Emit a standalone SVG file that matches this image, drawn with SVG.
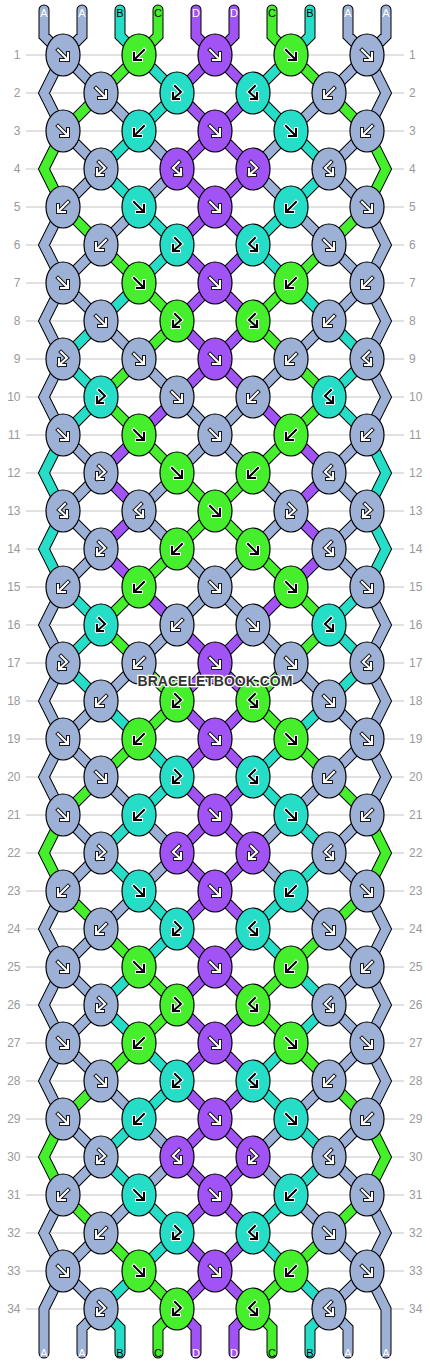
<svg xmlns="http://www.w3.org/2000/svg" xmlns:xlink="http://www.w3.org/1999/xlink" width="430" height="1364" viewBox="0 0 430 1364">
<style>
.ln{stroke:#c4c4c4;stroke-width:1;fill:none}
.rn{font-family:"Liberation Sans",Arial,sans-serif;font-size:12px;fill:#9a9a9a}
.l{text-anchor:end}
.o{fill:none;stroke:#000;stroke-width:11;stroke-linecap:round}
.sa,.sb,.sc,.sd{fill:none;stroke-width:9;stroke-linecap:round}
.sa{stroke:#9db0d6}.sb{stroke:#26dec8}.sc{stroke:#45ef2c}.sd{stroke:#a253f5}
ellipse{stroke:#000;stroke-width:1.2}
.A{fill:#9db0d6}.B{fill:#26dec8}.C{fill:#45ef2c}.D{fill:#a253f5}
.wo,.wi,.ko,.ki{fill:none;stroke-linecap:square}
.wo{stroke:#1a1a1a;stroke-width:4}.wi{stroke:#fff;stroke-width:2}
.ko{stroke:#fff;stroke-width:4}.ki{stroke:#000;stroke-width:2}
.lab{font-family:"Liberation Sans",Arial,sans-serif;font-size:11px;text-anchor:middle}
.lw{fill:#fff}.lk{fill:#000}
.wm{font-family:"Liberation Sans",Arial,sans-serif;font-weight:bold;font-size:14px;text-anchor:middle;fill:#333;stroke:#fff;stroke-width:2.5;paint-order:stroke}
</style>
<defs>
<path id="f" d="M-5,-5L4,4M5,-2V5H-2"/>
<path id="b" d="M5,-5L-4,4M-5,-2V5H2"/>
<path id="fb" d="M-2,-7L4,-1L-4,6M-4,0V6H2"/>
<path id="bf" d="M2,-7L-4,-1L4,6M4,0V6H-2"/>
<g id="fW"><use href="#f" class="wo"/><use href="#f" class="wi"/></g>
<g id="bW"><use href="#b" class="wo"/><use href="#b" class="wi"/></g>
<g id="fbW"><use href="#fb" class="wo"/><use href="#fb" class="wi"/></g>
<g id="bfW"><use href="#bf" class="wo"/><use href="#bf" class="wi"/></g>
<g id="fK"><use href="#f" class="ko"/><use href="#f" class="ki"/></g>
<g id="bK"><use href="#b" class="ko"/><use href="#b" class="ki"/></g>
<g id="fbK"><use href="#fb" class="ko"/><use href="#fb" class="ki"/></g>
<g id="bfK"><use href="#bf" class="ko"/><use href="#bf" class="ki"/></g>
<g id="allp">
<path id="pA" d="M44,10V36L63,55M82,10V36L63,55M63,55L44,93L63,131M63,207L44,245L63,283L44,321L63,359L44,397L63,435M63,587L44,625L63,663L44,701L63,739L44,777L63,815M63,891L44,929L63,967L44,1005L63,1043L44,1081L63,1119M63,1195L44,1233L63,1271L44,1309V1353M101,1309L82,1328V1353M63,55l38,38M101,93l38,38M63,131l38,38M139,131l38,38M101,169l-38,38M177,169l-38,38M139,207l-38,38M101,245l-38,38M63,283l38,38M101,321l38,38M139,359l38,38M177,397l38,38M63,435l38,38M215,435l-38,38M101,473l-38,38M177,473l-38,38M63,511l38,38M139,511l38,38M101,549l-38,38M177,549l38,38M215,587l-38,38M177,625l-38,38M139,663l-38,38M101,701l-38,38M63,739l38,38M101,777l38,38M63,815l38,38M139,815l38,38M101,853l-38,38M177,853l-38,38M139,891l-38,38M101,929l-38,38M63,967l38,38M101,1005l-38,38M63,1043l38,38M101,1081l38,38M63,1119l38,38M139,1119l38,38M101,1157l-38,38M177,1157l-38,38M139,1195l-38,38M101,1233l-38,38M63,1271l38,38"/>
<path id="pB" d="M120,10V36L139,55L177,93L139,131L101,169L139,207L177,245L139,283L101,321L63,359L101,397L63,435L44,473L63,511L44,549L63,587L101,625L63,663L101,701L139,739L177,777L139,815L101,853L139,891L177,929L139,967L101,1005L139,1043L177,1081L139,1119L101,1157L139,1195L177,1233L139,1271L101,1309L120,1328V1353"/>
<path id="pC" d="M158,10V36L139,55L101,93L63,131L44,169L63,207L101,245L139,283L177,321L139,359L101,397L139,435L177,473L215,511L177,549L139,587L101,625L139,663L177,701L139,739L101,777L63,815L44,853L63,891L101,929L139,967L177,1005L139,1043L101,1081L63,1119L44,1157L63,1195L101,1233L139,1271L177,1309L158,1328V1353"/>
<path id="pD" d="M196,10V36L215,55L177,93L215,131L177,169L215,207L177,245L215,283L177,321L215,359L177,397L139,435L101,473L139,511L101,549L139,587L177,625L215,663L177,701L215,739L177,777L215,815L177,853L215,891L177,929L215,967L177,1005L215,1043L177,1081L215,1119L177,1157L215,1195L177,1233L215,1271L177,1309L196,1328V1353"/>
</g>
<g id="half"><use href="#allp" class="o"/><use href="#pA" class="sa"/><use href="#pB" class="sb"/><use href="#pC" class="sc"/><use href="#pD" class="sd"/></g>
</defs>
<rect width="430" height="1364" fill="#fff"/>
<path class="ln" d="M26,55H404M26,93H404M26,131H404M26,169H404M26,207H404M26,245H404M26,283H404M26,321H404M26,359H404M26,397H404M26,435H404M26,473H404M26,511H404M26,549H404M26,587H404M26,625H404M26,663H404M26,701H404M26,739H404M26,777H404M26,815H404M26,853H404M26,891H404M26,929H404M26,967H404M26,1005H404M26,1043H404M26,1081H404M26,1119H404M26,1157H404M26,1195H404M26,1233H404M26,1271H404M26,1309H404"/>
<g id="rownumbers">
<text class="rn l" x="20.5" y="59">1</text><text class="rn" x="409" y="59">1</text>
<text class="rn l" x="20.5" y="97">2</text><text class="rn" x="409" y="97">2</text>
<text class="rn l" x="20.5" y="135">3</text><text class="rn" x="409" y="135">3</text>
<text class="rn l" x="20.5" y="173">4</text><text class="rn" x="409" y="173">4</text>
<text class="rn l" x="20.5" y="211">5</text><text class="rn" x="409" y="211">5</text>
<text class="rn l" x="20.5" y="249">6</text><text class="rn" x="409" y="249">6</text>
<text class="rn l" x="20.5" y="287">7</text><text class="rn" x="409" y="287">7</text>
<text class="rn l" x="20.5" y="325">8</text><text class="rn" x="409" y="325">8</text>
<text class="rn l" x="20.5" y="363">9</text><text class="rn" x="409" y="363">9</text>
<text class="rn l" x="20.5" y="401">10</text><text class="rn" x="409" y="401">10</text>
<text class="rn l" x="20.5" y="439">11</text><text class="rn" x="409" y="439">11</text>
<text class="rn l" x="20.5" y="477">12</text><text class="rn" x="409" y="477">12</text>
<text class="rn l" x="20.5" y="515">13</text><text class="rn" x="409" y="515">13</text>
<text class="rn l" x="20.5" y="553">14</text><text class="rn" x="409" y="553">14</text>
<text class="rn l" x="20.5" y="591">15</text><text class="rn" x="409" y="591">15</text>
<text class="rn l" x="20.5" y="629">16</text><text class="rn" x="409" y="629">16</text>
<text class="rn l" x="20.5" y="667">17</text><text class="rn" x="409" y="667">17</text>
<text class="rn l" x="20.5" y="705">18</text><text class="rn" x="409" y="705">18</text>
<text class="rn l" x="20.5" y="743">19</text><text class="rn" x="409" y="743">19</text>
<text class="rn l" x="20.5" y="781">20</text><text class="rn" x="409" y="781">20</text>
<text class="rn l" x="20.5" y="819">21</text><text class="rn" x="409" y="819">21</text>
<text class="rn l" x="20.5" y="857">22</text><text class="rn" x="409" y="857">22</text>
<text class="rn l" x="20.5" y="895">23</text><text class="rn" x="409" y="895">23</text>
<text class="rn l" x="20.5" y="933">24</text><text class="rn" x="409" y="933">24</text>
<text class="rn l" x="20.5" y="971">25</text><text class="rn" x="409" y="971">25</text>
<text class="rn l" x="20.5" y="1009">26</text><text class="rn" x="409" y="1009">26</text>
<text class="rn l" x="20.5" y="1047">27</text><text class="rn" x="409" y="1047">27</text>
<text class="rn l" x="20.5" y="1085">28</text><text class="rn" x="409" y="1085">28</text>
<text class="rn l" x="20.5" y="1123">29</text><text class="rn" x="409" y="1123">29</text>
<text class="rn l" x="20.5" y="1161">30</text><text class="rn" x="409" y="1161">30</text>
<text class="rn l" x="20.5" y="1199">31</text><text class="rn" x="409" y="1199">31</text>
<text class="rn l" x="20.5" y="1237">32</text><text class="rn" x="409" y="1237">32</text>
<text class="rn l" x="20.5" y="1275">33</text><text class="rn" x="409" y="1275">33</text>
<text class="rn l" x="20.5" y="1313">34</text><text class="rn" x="409" y="1313">34</text>
</g>
<g id="connectors">
<use href="#half"/>
<use href="#half" transform="matrix(-1,0,0,1,430,0)"/>
</g>
<g id="knots">
<g id="n1-1" transform="translate(63,55)"><ellipse class="A" rx="17" ry="21"/><use href="#fW"/></g>
<g id="n1-2" transform="translate(139,55)"><ellipse class="C" rx="17" ry="21"/><use href="#bK"/></g>
<g id="n1-3" transform="translate(215,55)"><ellipse class="D" rx="17" ry="21"/><use href="#fW"/></g>
<g id="n1-4" transform="translate(291,55)"><ellipse class="C" rx="17" ry="21"/><use href="#fK"/></g>
<g id="n1-5" transform="translate(367,55)"><ellipse class="A" rx="17" ry="21"/><use href="#fW"/></g>
<g id="n2-1" transform="translate(101,93)"><ellipse class="A" rx="17" ry="21"/><use href="#fW"/></g>
<g id="n2-2" transform="translate(177,93)"><ellipse class="B" rx="17" ry="21"/><use href="#fbK"/></g>
<g id="n2-3" transform="translate(253,93)"><ellipse class="B" rx="17" ry="21"/><use href="#bfK"/></g>
<g id="n2-4" transform="translate(329,93)"><ellipse class="A" rx="17" ry="21"/><use href="#bW"/></g>
<g id="n3-1" transform="translate(63,131)"><ellipse class="A" rx="17" ry="21"/><use href="#fW"/></g>
<g id="n3-2" transform="translate(139,131)"><ellipse class="B" rx="17" ry="21"/><use href="#bK"/></g>
<g id="n3-3" transform="translate(215,131)"><ellipse class="D" rx="17" ry="21"/><use href="#fW"/></g>
<g id="n3-4" transform="translate(291,131)"><ellipse class="B" rx="17" ry="21"/><use href="#fK"/></g>
<g id="n3-5" transform="translate(367,131)"><ellipse class="A" rx="17" ry="21"/><use href="#bW"/></g>
<g id="n4-1" transform="translate(101,169)"><ellipse class="A" rx="17" ry="21"/><use href="#fbW"/></g>
<g id="n4-2" transform="translate(177,169)"><ellipse class="D" rx="17" ry="21"/><use href="#bfW"/></g>
<g id="n4-3" transform="translate(253,169)"><ellipse class="D" rx="17" ry="21"/><use href="#fbW"/></g>
<g id="n4-4" transform="translate(329,169)"><ellipse class="A" rx="17" ry="21"/><use href="#bfW"/></g>
<g id="n5-1" transform="translate(63,207)"><ellipse class="A" rx="17" ry="21"/><use href="#bW"/></g>
<g id="n5-2" transform="translate(139,207)"><ellipse class="B" rx="17" ry="21"/><use href="#fK"/></g>
<g id="n5-3" transform="translate(215,207)"><ellipse class="D" rx="17" ry="21"/><use href="#fW"/></g>
<g id="n5-4" transform="translate(291,207)"><ellipse class="B" rx="17" ry="21"/><use href="#bK"/></g>
<g id="n5-5" transform="translate(367,207)"><ellipse class="A" rx="17" ry="21"/><use href="#fW"/></g>
<g id="n6-1" transform="translate(101,245)"><ellipse class="A" rx="17" ry="21"/><use href="#bW"/></g>
<g id="n6-2" transform="translate(177,245)"><ellipse class="B" rx="17" ry="21"/><use href="#fbK"/></g>
<g id="n6-3" transform="translate(253,245)"><ellipse class="B" rx="17" ry="21"/><use href="#bfK"/></g>
<g id="n6-4" transform="translate(329,245)"><ellipse class="A" rx="17" ry="21"/><use href="#fW"/></g>
<g id="n7-1" transform="translate(63,283)"><ellipse class="A" rx="17" ry="21"/><use href="#fW"/></g>
<g id="n7-2" transform="translate(139,283)"><ellipse class="C" rx="17" ry="21"/><use href="#fK"/></g>
<g id="n7-3" transform="translate(215,283)"><ellipse class="D" rx="17" ry="21"/><use href="#fW"/></g>
<g id="n7-4" transform="translate(291,283)"><ellipse class="C" rx="17" ry="21"/><use href="#bK"/></g>
<g id="n7-5" transform="translate(367,283)"><ellipse class="A" rx="17" ry="21"/><use href="#bW"/></g>
<g id="n8-1" transform="translate(101,321)"><ellipse class="A" rx="17" ry="21"/><use href="#fW"/></g>
<g id="n8-2" transform="translate(177,321)"><ellipse class="C" rx="17" ry="21"/><use href="#fbK"/></g>
<g id="n8-3" transform="translate(253,321)"><ellipse class="C" rx="17" ry="21"/><use href="#bfK"/></g>
<g id="n8-4" transform="translate(329,321)"><ellipse class="A" rx="17" ry="21"/><use href="#bW"/></g>
<g id="n9-1" transform="translate(63,359)"><ellipse class="A" rx="17" ry="21"/><use href="#fbW"/></g>
<g id="n9-2" transform="translate(139,359)"><ellipse class="A" rx="17" ry="21"/><use href="#fW"/></g>
<g id="n9-3" transform="translate(215,359)"><ellipse class="D" rx="17" ry="21"/><use href="#fW"/></g>
<g id="n9-4" transform="translate(291,359)"><ellipse class="A" rx="17" ry="21"/><use href="#bW"/></g>
<g id="n9-5" transform="translate(367,359)"><ellipse class="A" rx="17" ry="21"/><use href="#bfW"/></g>
<g id="n10-1" transform="translate(101,397)"><ellipse class="B" rx="17" ry="21"/><use href="#fbK"/></g>
<g id="n10-2" transform="translate(177,397)"><ellipse class="A" rx="17" ry="21"/><use href="#fW"/></g>
<g id="n10-3" transform="translate(253,397)"><ellipse class="A" rx="17" ry="21"/><use href="#bW"/></g>
<g id="n10-4" transform="translate(329,397)"><ellipse class="B" rx="17" ry="21"/><use href="#bfK"/></g>
<g id="n11-1" transform="translate(63,435)"><ellipse class="A" rx="17" ry="21"/><use href="#fW"/></g>
<g id="n11-2" transform="translate(139,435)"><ellipse class="C" rx="17" ry="21"/><use href="#fK"/></g>
<g id="n11-3" transform="translate(215,435)"><ellipse class="A" rx="17" ry="21"/><use href="#fW"/></g>
<g id="n11-4" transform="translate(291,435)"><ellipse class="C" rx="17" ry="21"/><use href="#bK"/></g>
<g id="n11-5" transform="translate(367,435)"><ellipse class="A" rx="17" ry="21"/><use href="#bW"/></g>
<g id="n12-1" transform="translate(101,473)"><ellipse class="A" rx="17" ry="21"/><use href="#fbW"/></g>
<g id="n12-2" transform="translate(177,473)"><ellipse class="C" rx="17" ry="21"/><use href="#fK"/></g>
<g id="n12-3" transform="translate(253,473)"><ellipse class="C" rx="17" ry="21"/><use href="#bK"/></g>
<g id="n12-4" transform="translate(329,473)"><ellipse class="A" rx="17" ry="21"/><use href="#bfW"/></g>
<g id="n13-1" transform="translate(63,511)"><ellipse class="A" rx="17" ry="21"/><use href="#bfW"/></g>
<g id="n13-2" transform="translate(139,511)"><ellipse class="A" rx="17" ry="21"/><use href="#bfW"/></g>
<g id="n13-3" transform="translate(215,511)"><ellipse class="C" rx="17" ry="21"/><use href="#fK"/></g>
<g id="n13-4" transform="translate(291,511)"><ellipse class="A" rx="17" ry="21"/><use href="#fbW"/></g>
<g id="n13-5" transform="translate(367,511)"><ellipse class="A" rx="17" ry="21"/><use href="#fbW"/></g>
<g id="n14-1" transform="translate(101,549)"><ellipse class="A" rx="17" ry="21"/><use href="#fbW"/></g>
<g id="n14-2" transform="translate(177,549)"><ellipse class="C" rx="17" ry="21"/><use href="#bK"/></g>
<g id="n14-3" transform="translate(253,549)"><ellipse class="C" rx="17" ry="21"/><use href="#fK"/></g>
<g id="n14-4" transform="translate(329,549)"><ellipse class="A" rx="17" ry="21"/><use href="#bfW"/></g>
<g id="n15-1" transform="translate(63,587)"><ellipse class="A" rx="17" ry="21"/><use href="#bW"/></g>
<g id="n15-2" transform="translate(139,587)"><ellipse class="C" rx="17" ry="21"/><use href="#bK"/></g>
<g id="n15-3" transform="translate(215,587)"><ellipse class="A" rx="17" ry="21"/><use href="#fW"/></g>
<g id="n15-4" transform="translate(291,587)"><ellipse class="C" rx="17" ry="21"/><use href="#fK"/></g>
<g id="n15-5" transform="translate(367,587)"><ellipse class="A" rx="17" ry="21"/><use href="#fW"/></g>
<g id="n16-1" transform="translate(101,625)"><ellipse class="B" rx="17" ry="21"/><use href="#fbK"/></g>
<g id="n16-2" transform="translate(177,625)"><ellipse class="A" rx="17" ry="21"/><use href="#bW"/></g>
<g id="n16-3" transform="translate(253,625)"><ellipse class="A" rx="17" ry="21"/><use href="#fW"/></g>
<g id="n16-4" transform="translate(329,625)"><ellipse class="B" rx="17" ry="21"/><use href="#bfK"/></g>
<g id="n17-1" transform="translate(63,663)"><ellipse class="A" rx="17" ry="21"/><use href="#fbW"/></g>
<g id="n17-2" transform="translate(139,663)"><ellipse class="A" rx="17" ry="21"/><use href="#bW"/></g>
<g id="n17-3" transform="translate(215,663)"><ellipse class="D" rx="17" ry="21"/><use href="#fW"/></g>
<g id="n17-4" transform="translate(291,663)"><ellipse class="A" rx="17" ry="21"/><use href="#fW"/></g>
<g id="n17-5" transform="translate(367,663)"><ellipse class="A" rx="17" ry="21"/><use href="#bfW"/></g>
<g id="n18-1" transform="translate(101,701)"><ellipse class="A" rx="17" ry="21"/><use href="#bW"/></g>
<g id="n18-2" transform="translate(177,701)"><ellipse class="C" rx="17" ry="21"/><use href="#fbK"/></g>
<g id="n18-3" transform="translate(253,701)"><ellipse class="C" rx="17" ry="21"/><use href="#bfK"/></g>
<g id="n18-4" transform="translate(329,701)"><ellipse class="A" rx="17" ry="21"/><use href="#fW"/></g>
<g id="n19-1" transform="translate(63,739)"><ellipse class="A" rx="17" ry="21"/><use href="#fW"/></g>
<g id="n19-2" transform="translate(139,739)"><ellipse class="C" rx="17" ry="21"/><use href="#bK"/></g>
<g id="n19-3" transform="translate(215,739)"><ellipse class="D" rx="17" ry="21"/><use href="#fW"/></g>
<g id="n19-4" transform="translate(291,739)"><ellipse class="C" rx="17" ry="21"/><use href="#fK"/></g>
<g id="n19-5" transform="translate(367,739)"><ellipse class="A" rx="17" ry="21"/><use href="#fW"/></g>
<g id="n20-1" transform="translate(101,777)"><ellipse class="A" rx="17" ry="21"/><use href="#fW"/></g>
<g id="n20-2" transform="translate(177,777)"><ellipse class="B" rx="17" ry="21"/><use href="#fbK"/></g>
<g id="n20-3" transform="translate(253,777)"><ellipse class="B" rx="17" ry="21"/><use href="#bfK"/></g>
<g id="n20-4" transform="translate(329,777)"><ellipse class="A" rx="17" ry="21"/><use href="#bW"/></g>
<g id="n21-1" transform="translate(63,815)"><ellipse class="A" rx="17" ry="21"/><use href="#fW"/></g>
<g id="n21-2" transform="translate(139,815)"><ellipse class="B" rx="17" ry="21"/><use href="#bK"/></g>
<g id="n21-3" transform="translate(215,815)"><ellipse class="D" rx="17" ry="21"/><use href="#fW"/></g>
<g id="n21-4" transform="translate(291,815)"><ellipse class="B" rx="17" ry="21"/><use href="#fK"/></g>
<g id="n21-5" transform="translate(367,815)"><ellipse class="A" rx="17" ry="21"/><use href="#bW"/></g>
<g id="n22-1" transform="translate(101,853)"><ellipse class="A" rx="17" ry="21"/><use href="#fbW"/></g>
<g id="n22-2" transform="translate(177,853)"><ellipse class="D" rx="17" ry="21"/><use href="#bfW"/></g>
<g id="n22-3" transform="translate(253,853)"><ellipse class="D" rx="17" ry="21"/><use href="#fbW"/></g>
<g id="n22-4" transform="translate(329,853)"><ellipse class="A" rx="17" ry="21"/><use href="#bfW"/></g>
<g id="n23-1" transform="translate(63,891)"><ellipse class="A" rx="17" ry="21"/><use href="#bW"/></g>
<g id="n23-2" transform="translate(139,891)"><ellipse class="B" rx="17" ry="21"/><use href="#fK"/></g>
<g id="n23-3" transform="translate(215,891)"><ellipse class="D" rx="17" ry="21"/><use href="#fW"/></g>
<g id="n23-4" transform="translate(291,891)"><ellipse class="B" rx="17" ry="21"/><use href="#bK"/></g>
<g id="n23-5" transform="translate(367,891)"><ellipse class="A" rx="17" ry="21"/><use href="#fW"/></g>
<g id="n24-1" transform="translate(101,929)"><ellipse class="A" rx="17" ry="21"/><use href="#bW"/></g>
<g id="n24-2" transform="translate(177,929)"><ellipse class="B" rx="17" ry="21"/><use href="#fbK"/></g>
<g id="n24-3" transform="translate(253,929)"><ellipse class="B" rx="17" ry="21"/><use href="#bfK"/></g>
<g id="n24-4" transform="translate(329,929)"><ellipse class="A" rx="17" ry="21"/><use href="#fW"/></g>
<g id="n25-1" transform="translate(63,967)"><ellipse class="A" rx="17" ry="21"/><use href="#fW"/></g>
<g id="n25-2" transform="translate(139,967)"><ellipse class="C" rx="17" ry="21"/><use href="#fK"/></g>
<g id="n25-3" transform="translate(215,967)"><ellipse class="D" rx="17" ry="21"/><use href="#fW"/></g>
<g id="n25-4" transform="translate(291,967)"><ellipse class="C" rx="17" ry="21"/><use href="#bK"/></g>
<g id="n25-5" transform="translate(367,967)"><ellipse class="A" rx="17" ry="21"/><use href="#bW"/></g>
<g id="n26-1" transform="translate(101,1005)"><ellipse class="A" rx="17" ry="21"/><use href="#fbW"/></g>
<g id="n26-2" transform="translate(177,1005)"><ellipse class="C" rx="17" ry="21"/><use href="#fbK"/></g>
<g id="n26-3" transform="translate(253,1005)"><ellipse class="C" rx="17" ry="21"/><use href="#bfK"/></g>
<g id="n26-4" transform="translate(329,1005)"><ellipse class="A" rx="17" ry="21"/><use href="#bfW"/></g>
<g id="n27-1" transform="translate(63,1043)"><ellipse class="A" rx="17" ry="21"/><use href="#fW"/></g>
<g id="n27-2" transform="translate(139,1043)"><ellipse class="C" rx="17" ry="21"/><use href="#bK"/></g>
<g id="n27-3" transform="translate(215,1043)"><ellipse class="D" rx="17" ry="21"/><use href="#fW"/></g>
<g id="n27-4" transform="translate(291,1043)"><ellipse class="C" rx="17" ry="21"/><use href="#fK"/></g>
<g id="n27-5" transform="translate(367,1043)"><ellipse class="A" rx="17" ry="21"/><use href="#fW"/></g>
<g id="n28-1" transform="translate(101,1081)"><ellipse class="A" rx="17" ry="21"/><use href="#fW"/></g>
<g id="n28-2" transform="translate(177,1081)"><ellipse class="B" rx="17" ry="21"/><use href="#fbK"/></g>
<g id="n28-3" transform="translate(253,1081)"><ellipse class="B" rx="17" ry="21"/><use href="#bfK"/></g>
<g id="n28-4" transform="translate(329,1081)"><ellipse class="A" rx="17" ry="21"/><use href="#bW"/></g>
<g id="n29-1" transform="translate(63,1119)"><ellipse class="A" rx="17" ry="21"/><use href="#fW"/></g>
<g id="n29-2" transform="translate(139,1119)"><ellipse class="B" rx="17" ry="21"/><use href="#bK"/></g>
<g id="n29-3" transform="translate(215,1119)"><ellipse class="D" rx="17" ry="21"/><use href="#fW"/></g>
<g id="n29-4" transform="translate(291,1119)"><ellipse class="B" rx="17" ry="21"/><use href="#fK"/></g>
<g id="n29-5" transform="translate(367,1119)"><ellipse class="A" rx="17" ry="21"/><use href="#bW"/></g>
<g id="n30-1" transform="translate(101,1157)"><ellipse class="A" rx="17" ry="21"/><use href="#fbW"/></g>
<g id="n30-2" transform="translate(177,1157)"><ellipse class="D" rx="17" ry="21"/><use href="#bfW"/></g>
<g id="n30-3" transform="translate(253,1157)"><ellipse class="D" rx="17" ry="21"/><use href="#fbW"/></g>
<g id="n30-4" transform="translate(329,1157)"><ellipse class="A" rx="17" ry="21"/><use href="#bfW"/></g>
<g id="n31-1" transform="translate(63,1195)"><ellipse class="A" rx="17" ry="21"/><use href="#bW"/></g>
<g id="n31-2" transform="translate(139,1195)"><ellipse class="B" rx="17" ry="21"/><use href="#fK"/></g>
<g id="n31-3" transform="translate(215,1195)"><ellipse class="D" rx="17" ry="21"/><use href="#fW"/></g>
<g id="n31-4" transform="translate(291,1195)"><ellipse class="B" rx="17" ry="21"/><use href="#bK"/></g>
<g id="n31-5" transform="translate(367,1195)"><ellipse class="A" rx="17" ry="21"/><use href="#fW"/></g>
<g id="n32-1" transform="translate(101,1233)"><ellipse class="A" rx="17" ry="21"/><use href="#bW"/></g>
<g id="n32-2" transform="translate(177,1233)"><ellipse class="B" rx="17" ry="21"/><use href="#fbK"/></g>
<g id="n32-3" transform="translate(253,1233)"><ellipse class="B" rx="17" ry="21"/><use href="#bfK"/></g>
<g id="n32-4" transform="translate(329,1233)"><ellipse class="A" rx="17" ry="21"/><use href="#fW"/></g>
<g id="n33-1" transform="translate(63,1271)"><ellipse class="A" rx="17" ry="21"/><use href="#fW"/></g>
<g id="n33-2" transform="translate(139,1271)"><ellipse class="C" rx="17" ry="21"/><use href="#fK"/></g>
<g id="n33-3" transform="translate(215,1271)"><ellipse class="D" rx="17" ry="21"/><use href="#fW"/></g>
<g id="n33-4" transform="translate(291,1271)"><ellipse class="C" rx="17" ry="21"/><use href="#bK"/></g>
<g id="n33-5" transform="translate(367,1271)"><ellipse class="A" rx="17" ry="21"/><use href="#fW"/></g>
<g id="n34-1" transform="translate(101,1309)"><ellipse class="A" rx="17" ry="21"/><use href="#fbW"/></g>
<g id="n34-2" transform="translate(177,1309)"><ellipse class="C" rx="17" ry="21"/><use href="#fbK"/></g>
<g id="n34-3" transform="translate(253,1309)"><ellipse class="C" rx="17" ry="21"/><use href="#bfK"/></g>
<g id="n34-4" transform="translate(329,1309)"><ellipse class="A" rx="17" ry="21"/><use href="#bfW"/></g>
</g>
<g id="stringlabels">
<text class="lab lw" x="44" y="17">A</text><text class="lab lw" x="82" y="17">A</text><text class="lab lk" x="120" y="17">B</text><text class="lab lk" x="158" y="17">C</text><text class="lab lw" x="196" y="17">D</text><text class="lab lw" x="234" y="17">D</text><text class="lab lk" x="272" y="17">C</text><text class="lab lk" x="310" y="17">B</text><text class="lab lw" x="348" y="17">A</text><text class="lab lw" x="386" y="17">A</text>
<text class="lab lw" x="44" y="1357">A</text><text class="lab lw" x="82" y="1357">A</text><text class="lab lk" x="120" y="1357">B</text><text class="lab lk" x="158" y="1357">C</text><text class="lab lw" x="196" y="1357">D</text><text class="lab lw" x="234" y="1357">D</text><text class="lab lk" x="272" y="1357">C</text><text class="lab lk" x="310" y="1357">B</text><text class="lab lw" x="348" y="1357">A</text><text class="lab lw" x="386" y="1357">A</text>
</g>
<text class="wm" x="215" y="686">BRACELETBOOK.COM</text>
</svg>
